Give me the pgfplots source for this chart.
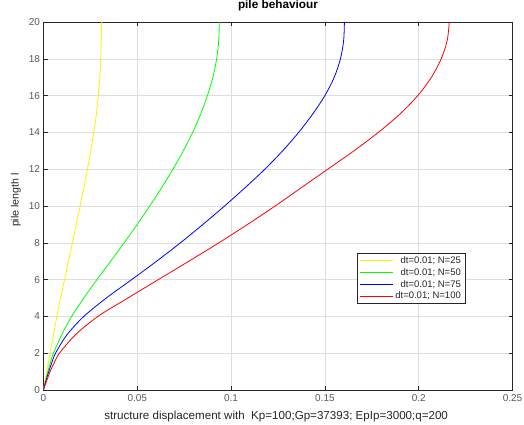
\documentclass[border=0pt]{standalone}
\usepackage{fontspec}
\setmainfont{Liberation Sans}
\usepackage{pgfplots}
\pgfplotsset{compat=1.18}

\definecolor{axgray}{gray}{0.15}
\definecolor{tickgray}{gray}{0.35}
\definecolor{gridgray}{gray}{0.87}

% displacement (x) against pile length (y)
\pgfplotstableread{
y x
0 0
0.5 0.0008
1 0.0017
2 0.0035
3 0.0053
4 0.0071
5 0.0091
6 0.0112
7 0.0133
8 0.0154
9 0.0175
10 0.0195
11 0.0215
12 0.0234
13 0.0252
14 0.0268
15 0.0282
16 0.0292
17 0.0300
18 0.0305
19 0.0308
20 0.0310
}\Nquarter

\pgfplotstableread{
y x
0 0
0.25 0.0005
0.5 0.0011
1 0.0023
1.5 0.0037
2 0.0053
3 0.0097
4 0.0150
5 0.0215
6 0.0285
7 0.0358
8 0.0430
9 0.0500
10 0.0566
11 0.0630
12 0.0690
13 0.0745
14 0.0795
15 0.0838
16 0.0874
17 0.0903
18 0.0923
19 0.0934
20 0.0937
}\Nfifty

\pgfplotstableread{
y x
0 0
0.25 0.0006
0.5 0.0013
1 0.0028
1.5 0.0045
2 0.0064
3 0.0125
4 0.0215
5 0.0335
6 0.0470
7 0.0603
8 0.0730
9 0.0850
10 0.0965
11 0.1075
12 0.1180
13 0.1275
14 0.1360
15 0.1435
16 0.1500
17 0.1550
18 0.1583
19 0.1600
20 0.1604
}\Nseventyfive

\pgfplotstableread{
y x
0 0
0.25 0.0008
0.5 0.0017
1 0.0035
1.5 0.0058
2 0.0085
3 0.0170
4 0.0290
5 0.0450
6 0.0612
7 0.0775
8 0.0935
9 0.1088
10 0.1235
11 0.1375
12 0.1515
13 0.1655
14 0.1785
15 0.1900
16 0.1995
17 0.2068
18 0.2120
19 0.2152
20 0.2163
}\Nhundred

\begin{document}
\begin{tikzpicture}
\path[use as bounding box] (-43.5pt,-35pt) rectangle (480.5pt,390pt);
\begin{axis}[
    scale only axis,
    width=469pt, height=368pt,
    xmin=0, xmax=0.25, ymin=0, ymax=20,
    xtick={0,0.05,0.1,0.15,0.2,0.25},
    xticklabels={0,0.05,0.1,0.15,0.2,0.25},
    ytick={0,2,...,20},
    /pgf/number format/assume math mode=true,
    tick align=inside,
    major tick length=4pt,
    axis line style={axgray, line width=0.6pt},
    tick style={axgray, line width=0.5pt},
    grid=major,
    major grid style={gridgray, line width=0.5pt},
    tick label style={font=\fontsize{10}{12}\selectfont, text=tickgray},
    xticklabel style={yshift=-1pt},
    title={\textbf{pile behaviour}},
    title style={font=\fontsize{11.8}{13}\selectfont, at={(axis description cs:0.5,1.028)}, anchor=center},
    xlabel={structure displacement with\ \ Kp=100;Gp=37393; EpIp=3000;q=200},
    xlabel style={font=\fontsize{11.6}{13}\selectfont, text=axgray, at={(axis description cs:0.496,-0.0725)}, anchor=center},
    ylabel={pile length l},
    ylabel style={font=\fontsize{10.6}{12}\selectfont, text=axgray, at={(axis description cs:-0.059,0.516)}, anchor=center},
    legend style={at={(0.668,0.372)}, anchor=north west, font=\fontsize{9.5}{10.5}\selectfont,
        draw=axgray, line width=0.5pt, inner xsep=2.5pt, inner ysep=1pt, row sep=-0.5pt, text=axgray},
    legend cell align=right,
    legend image code/.code={\draw[#1] plot coordinates {(0pt,0pt) (16pt,0pt) (33pt,0pt)};},
    every axis plot/.append style={line width=0.8pt, smooth, tension=0.5},
]
\addplot[yellow] table[x=x, y=y] {\Nquarter};
\addlegendentry{dt=0.01; N=25}
\addplot[green] table[x=x, y=y] {\Nfifty};
\addlegendentry{dt=0.01; N=50}
\addplot[blue] table[x=x, y=y] {\Nseventyfive};
\addlegendentry{dt=0.01; N=75}
\addplot[red] table[x=x, y=y] {\Nhundred};
\addlegendentry{dt=0.01; N=100}
\end{axis}
\end{tikzpicture}
\end{document}
